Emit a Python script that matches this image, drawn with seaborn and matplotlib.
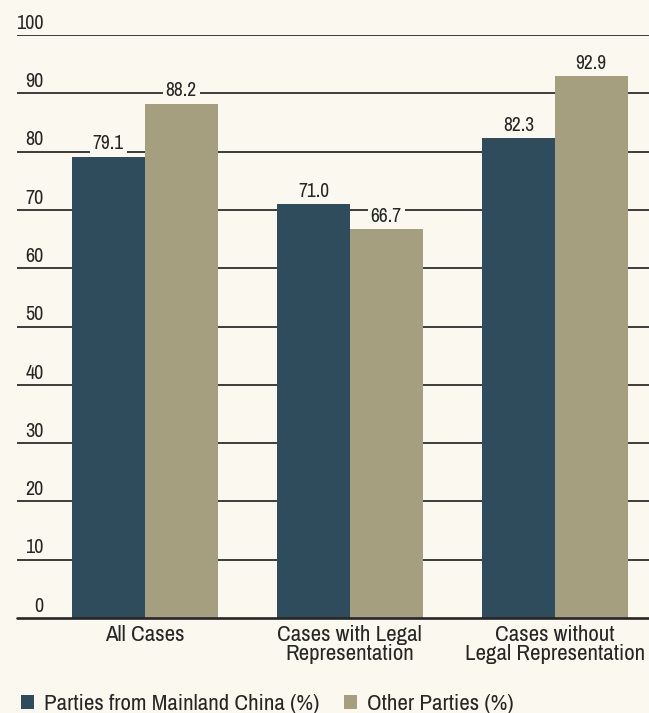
import matplotlib
matplotlib.use("Agg")
import matplotlib.pyplot as plt
import matplotlib.transforms as mtransforms
from matplotlib.patches import Patch
import seaborn as sns
import pandas as pd

# Data
categories = ["All Cases", "Cases with Legal\nRepresentation", "Cases without\nLegal Representation"]
mainland = [79.1, 71.0, 82.3]
other = [88.2, 66.7, 92.9]
series_names = ["Parties from Mainland China (%)", "Other Parties (%)"]
y_ticks = [0, 10, 20, 30, 40, 50, 60, 70, 80, 90, 100]

BG = "#fbf9ef"
DARK = "#2e4c5c"
TAN = "#a59f7f"
INK = "#262626"

sns.set_style("white")
plt.rcParams["font.family"] = ["Archivo Narrow", "DejaVu Sans"]

df = pd.DataFrame({
    "category": categories * 2,
    "party": [series_names[0]] * 3 + [series_names[1]] * 3,
    "value": mainland + other,
})

fig = plt.figure(figsize=(6.49, 7.13), dpi=100, facecolor=BG)
ax = fig.add_axes([0.026, 0.1332, 0.974, 0.8177])
ax.set_facecolor(BG)

# horizontal rules behind the bars
for t in y_ticks[1:]:
    ax.axhline(t, color=INK, lw=1.25, zorder=0)

sns.barplot(data=df, x="category", y="value", hue="party",
            palette=[DARK, TAN], width=0.71, gap=0, saturation=1,
            legend=False, ax=ax, zorder=2, edgecolor="none")

ax.set_xlim(-0.624, 2.459)
ax.set_ylim(0, 100)
ax.axhline(0, color=INK, lw=1.9, zorder=3, clip_on=False)

for s in ax.spines.values():
    s.set_visible(False)

# y labels sit above their rules, right aligned to a common edge
lab_tr = mtransforms.offset_copy(ax.get_yaxis_transform(), fig=fig, x=19.2, y=4.5, units="points")
for t in y_ticks:
    ax.text(0.0, t, str(t), transform=lab_tr, ha="right", va="baseline",
            fontsize=14.5, color=INK)
ax.set_yticks([])

ax.set_xticks(range(len(categories)))
ax.set_xticklabels(categories, fontsize=16.5, color=INK, linespacing=0.95)
ax.tick_params(axis="x", length=0, pad=5)
ax.set_xlabel("")
ax.set_ylabel("")

# value labels on a background box that breaks the rules
for patch in ax.patches:
    h = patch.get_height()
    if h <= 0:
        continue
    cx = patch.get_x() + patch.get_width() / 2
    ax.annotate(f"{h:.1f}", (cx, h), xytext=(0, 2.5), textcoords="offset points",
                ha="center", va="bottom", fontsize=14, color=INK, zorder=4,
                bbox=dict(boxstyle="square,pad=0.15", fc=BG, ec="none"))

handles = [Patch(facecolor=DARK, edgecolor="none"), Patch(facecolor=TAN, edgecolor="none")]
fig.legend(handles, series_names, loc="lower left", bbox_to_anchor=(0.001, -0.03),
           ncol=2, frameon=False, fontsize=16.5, handlelength=0.57, handleheight=0.57,
           handletextpad=0.44, columnspacing=1.05, labelcolor=INK)

fig.savefig("out.png", dpi=100, facecolor=BG)
